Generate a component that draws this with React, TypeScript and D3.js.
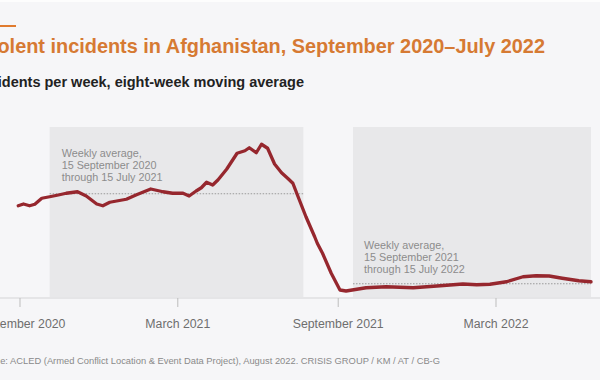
import React from "react";
import * as d3 from "d3";

const dates: string[] = [
  "2020-08-30","2020-09-05","2020-09-12","2020-09-18","2020-09-26","2020-10-05","2020-10-15","2020-10-24",
  "2020-11-06","2020-11-16","2020-11-28","2020-12-05","2020-12-13","2021-01-01","2021-01-12","2021-01-29",
  "2021-02-12","2021-02-23","2021-03-07","2021-03-14","2021-03-22","2021-03-28","2021-04-03","2021-04-10",
  "2021-04-16","2021-04-26","2021-05-08","2021-05-17","2021-05-22","2021-05-30","2021-06-05","2021-06-12",
  "2021-06-20","2021-06-28","2021-07-05","2021-07-11","2021-07-17","2021-07-26","2021-08-05","2021-08-08",
  "2021-08-11","2021-08-14","2021-08-24","2021-09-03","2021-09-10","2021-10-03","2021-10-26","2021-11-26",
  "2021-12-27","2022-01-22","2022-02-07","2022-02-22","2022-03-13","2022-04-01","2022-04-16","2022-05-01",
  "2022-05-16","2022-06-04","2022-06-18",
];
const incidents: number[] = [
  365,372,365,371,395,401,408,415,
  421,404,372,365,379,391,408,432,
  421,415,415,404,424,437,459,448,
  468,511,575,585,597,577,611,595,
  532,497,475,455,401,321,241,215,
  195,175,95,28,24,37,41,37,
  45,52,49,51,61,81,85,84,
  75,65,61,
];

const tickDates: string[] = ["2020-09-01","2021-03-01","2021-09-01","2022-03-01"];
const tickLabels: string[] = ["September 2020","March 2021","September 2021","March 2022"];

const periodStarts: string[] = ["2020-10-05","2021-09-18"];
const periodEnds: string[] = ["2021-07-23","2022-06-18"];
const periodAverages: number[] = [413, 53];
const periodNotes: string[][] = [
  ["Weekly average,","15 September 2020","through 15 July 2021"],
  ["Weekly average,","15 September 2021","through 15 July 2022"],
];

const title = "Violent incidents in Afghanistan, September 2020–July 2022";
const subtitle = "Incidents per week, eight-week moving average";
const source = "Source: ACLED (Armed Conflict Location & Event Data Project), August 2022. CRISIS GROUP / KM / AT / CB-G";

const parse = d3.utcParse("%Y-%m-%d");

export default function App() {
  const W = 600, H = 380;
  const x = d3.scaleUtc().domain([parse("2020-09-01")!, parse("2022-03-01")!]).range([20, 496]);
  const y = d3.scaleLinear().domain([0, 680]).range([297, 127]);
  const data = dates.map((d, i) => ({ date: parse(d)!, v: incidents[i] }));
  const line = d3.line<{ date: Date; v: number }>().x(d => x(d.date)).y(d => y(d.v)).curve(d3.curveLinear);
  const font = "'Liberation Sans', Arial, sans-serif";
  const noteY = [157, 249];

  return (
    <svg width={W} height={H} style={{ position: "absolute", left: 0, top: 0, background: "#f6f6f8" }} fontFamily={font}>
      <rect x={0} y={0} width={W} height={H} fill="#f6f6f8" />
      <rect x={0} y={0} width={W} height={2} fill="#fdfdfd" />
      <line x1={0} x2={16} y1={26} y2={26} stroke="#e07b2f" strokeWidth={2} />
      <text x={545} y={53} textAnchor="end" fontSize={19.9} fontWeight="bold" fill="#d67a33">{title}</text>
      <text x={304} y={87} textAnchor="end" fontSize={14.5} fontWeight="bold" fill="#222">{subtitle}</text>

      {periodStarts.map((s, i) => {
        const x0 = x(parse(s)!), x1 = x(parse(periodEnds[i])!);
        return (
          <g key={"p" + i}>
            <rect x={x0} y={y(680)} width={x1 - x0} height={y(0) - y(680)} fill="#e8e8ea" />
            <line x1={x0} x2={x1} y1={y(periodAverages[i])} y2={y(periodAverages[i])} stroke="#9a9a9a" strokeWidth={1} strokeDasharray="1.5,1.5" />
            {periodNotes[i].map((t, j) => (
              <text key={j} x={x0 + (i === 0 ? 12 : 11)} y={noteY[i] + j * 12} fontSize={10.8} fill="#8c8c8c">{t}</text>
            ))}
          </g>
        );
      })}

      <line x1={0} x2={W} y1={298} y2={298} stroke="#d4d4d6" strokeWidth={1} />
      {tickDates.map((t, i) => {
        const tx = x(parse(t)!);
        return (
          <g key={"t" + i}>
            <line x1={tx} x2={tx} y1={298} y2={307} stroke="#bdbdbd" strokeWidth={1} />
            <text x={tx} y={328} textAnchor="middle" fontSize={12.3} fill="#6e6e6e">{tickLabels[i]}</text>
          </g>
        );
      })}

      <path d={line(data) || ""} fill="none" stroke="#96272e" strokeWidth={3.3} strokeLinejoin="round" strokeLinecap="round" />

      <text x={440} y={364} textAnchor="end" fontSize={9.35} fill="#8a8a8a">{source}</text>
    </svg>
  );
}
